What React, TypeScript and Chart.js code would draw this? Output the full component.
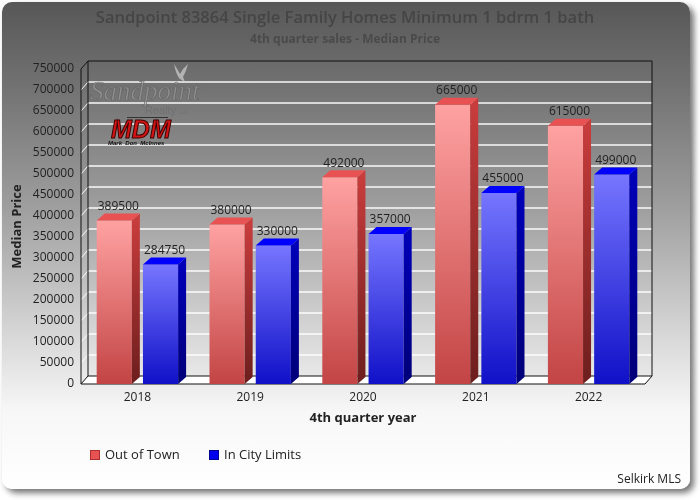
import React, { useEffect, useRef } from "react";
import { Chart, registerables } from "chart.js";

Chart.register(...registerables);

// data
const years = ["2018", "2019", "2020", "2021", "2022"];
const outOfTown = [389500, 380000, 492000, 665000, 615000];
const inCityLimits = [284750, 330000, 357000, 455000, 499000];
const seriesNames = ["Out of Town", "In City Limits"];
const yMax = 750000;
const yStep = 50000;

const FONT = "'Open Sans', 'DejaVu Sans', sans-serif";

// 3d depth of the plot walls and of the bars
const WX = 7;
const WY = 8;
const BX = 8;
const BY = 7;

const faces = [
    { light: "#ffa2a2", dark: "#c34444", sideTop: "#c83c3c", sideBot: "#6c1e1e", top: "#e85252", key: "#e85252", keyEdge: "#a83030" },
    { light: "#7676ff", dark: "#1010c8", sideTop: "#0000b8", sideBot: "#000078", top: "#0000ff", key: "#0000ee", keyEdge: "#000090" },
];

const frontFill = (i: number) => (ctx: any) => {
    const chart = ctx.chart;
    const area = chart.chartArea;
    if (!area || ctx.type !== "data") return faces[i].dark;
    const top = chart.scales.y.getPixelForValue(ctx.raw);
    const g = chart.ctx.createLinearGradient(0, top, 0, area.bottom);
    g.addColorStop(0, faces[i].light);
    g.addColorStop(1, faces[i].dark);
    return g;
};

const drawLogo = (ctx: CanvasRenderingContext2D) => {
    ctx.save();
    // little dove
    ctx.globalAlpha = 0.7;
    ctx.fillStyle = "#d0d0d0";
    ctx.beginPath();
    ctx.moveTo(174, 64);
    ctx.quadraticCurveTo(178, 70, 180, 74);
    ctx.quadraticCurveTo(183, 68, 188, 64);
    ctx.quadraticCurveTo(186, 72, 183, 77);
    ctx.lineTo(185, 82);
    ctx.lineTo(180, 79);
    ctx.quadraticCurveTo(176, 75, 174, 64);
    ctx.fill();

    // Sandpoint Realty watermark
    ctx.globalAlpha = 0.85;
    ctx.font = "italic 27px 'Liberation Serif', serif";
    ctx.textBaseline = "alphabetic";
    ctx.fillStyle = "rgba(175,175,175,0.55)";
    ctx.fillText("Sandpoint", 90, 100);
    ctx.strokeStyle = "#626262";
    ctx.lineWidth = 0.7;
    ctx.strokeText("Sandpoint", 90, 100);
    ctx.font = "11px 'Liberation Sans', sans-serif";
    ctx.fillStyle = "#6e6e6e";
    ctx.fillText("Realty", 145, 114);
    ctx.font = "5px 'Liberation Sans', sans-serif";
    ctx.fillText("LLC", 179, 114);

    // MDM mark
    ctx.globalAlpha = 1;
    ctx.strokeStyle = "#333";
    ctx.lineWidth = 1;
    ctx.beginPath();
    ctx.moveTo(127, 117.5);
    ctx.lineTo(168, 117.5);
    ctx.stroke();
    ctx.font = "italic bold 25px 'Liberation Sans', sans-serif";
    ctx.fillStyle = "#d41414";
    ctx.strokeStyle = "#3a0000";
    ctx.lineWidth = 1;
    ctx.fillText("MDM", 111, 138);
    ctx.strokeText("MDM", 111, 138);
    ctx.font = "italic bold 6px 'Liberation Sans', sans-serif";
    ctx.fillStyle = "#111";
    ctx.fillText("Mark  Don  McInnes", 108, 145);
    ctx.restore();
};

const threeD = {
    id: "threeD",
    beforeDatasetsDraw(chart: any) {
        const ctx: CanvasRenderingContext2D = chart.ctx;
        const { left, right, top, bottom } = chart.chartArea;
        const ys = chart.scales.y;
        ctx.save();

        // floor
        ctx.beginPath();
        ctx.moveTo(left, bottom);
        ctx.lineTo(right, bottom);
        ctx.lineTo(right + WX, bottom - WY);
        ctx.lineTo(left + WX, bottom - WY);
        ctx.closePath();
        ctx.fillStyle = "#ffffff";
        ctx.fill();
        ctx.strokeStyle = "#111";
        ctx.lineWidth = 1;
        ctx.stroke();

        // grid lines on the back wall + marks on the side wall
        ys.ticks.forEach((t: any) => {
            if (t.value === 0 || t.value === yMax) return;
            const py = ys.getPixelForValue(t.value);
            ctx.strokeStyle = "rgba(255,255,255,0.95)";
            ctx.lineWidth = 1.6;
            ctx.beginPath();
            ctx.moveTo(left + WX, py - WY);
            ctx.lineTo(right + WX, py - WY);
            ctx.stroke();
            ctx.lineWidth = 1;
            ctx.beginPath();
            ctx.moveTo(left, py);
            ctx.lineTo(left + WX, py - WY);
            ctx.stroke();
        });

        // wall outlines
        ctx.strokeStyle = "#111";
        ctx.lineWidth = 1;
        ctx.beginPath();
        ctx.moveTo(left + WX, bottom - WY);
        ctx.lineTo(left + WX, top - WY);
        ctx.lineTo(right + WX, top - WY);
        ctx.lineTo(right + WX, bottom - WY);
        ctx.moveTo(left, bottom);
        ctx.lineTo(left, top);
        ctx.lineTo(left + WX, top - WY);
        ctx.stroke();

        drawLogo(ctx);
        ctx.restore();
    },
    afterDatasetsDraw(chart: any) {
        const ctx: CanvasRenderingContext2D = chart.ctx;
        ctx.save();
        chart.data.datasets.forEach((ds: any, di: number) => {
            const f = faces[di];
            chart.getDatasetMeta(di).data.forEach((bar: any, i: number) => {
                const { x, y, base, width } = bar.getProps(["x", "y", "base", "width"], true);
                const l = x - width / 2;
                const r = x + width / 2;
                const g = ctx.createLinearGradient(0, y, 0, base);
                g.addColorStop(0, f.sideTop);
                g.addColorStop(1, f.sideBot);
                ctx.fillStyle = g;
                ctx.beginPath();
                ctx.moveTo(r, y);
                ctx.lineTo(r + BX, y - BY);
                ctx.lineTo(r + BX, base - BY);
                ctx.lineTo(r, base);
                ctx.closePath();
                ctx.fill();
                ctx.fillStyle = f.top;
                ctx.beginPath();
                ctx.moveTo(l, y);
                ctx.lineTo(r, y);
                ctx.lineTo(r + BX, y - BY);
                ctx.lineTo(l + BX, y - BY);
                ctx.closePath();
                ctx.fill();
                ctx.fillStyle = "#222";
                ctx.font = `12px ${FONT}`;
                ctx.textAlign = "center";
                ctx.textBaseline = "bottom";
                ctx.fillText(String(ds.data[i]), x + BX / 2, y - BY - 1);
            });
        });
        ctx.restore();
    },
    afterDraw(chart: any) {
        const ctx: CanvasRenderingContext2D = chart.ctx;
        ctx.save();
        ctx.textAlign = "center";
        ctx.textBaseline = "middle";
        ctx.fillStyle = "#454545";
        ctx.font = `600 16.5px ${FONT}`;
        ctx.fillText("Sandpoint 83864 Single Family Homes Minimum 1 bdrm 1 bath", 345, 18);
        ctx.fillStyle = "#4a4a4a";
        ctx.font = `bold 12px ${FONT}`;
        ctx.fillText("4th quarter sales - Median Price", 345, 40);

        // legend
        ctx.textAlign = "left";
        ctx.font = `13px ${FONT}`;
        const keyX = [90, 209];
        chart.data.datasets.forEach((ds: any, di: number) => {
            ctx.fillStyle = faces[di].key;
            ctx.fillRect(keyX[di], 450, 10, 10);
            ctx.strokeStyle = faces[di].keyEdge;
            ctx.lineWidth = 1;
            ctx.strokeRect(keyX[di] + 0.5, 450.5, 9, 9);
            ctx.fillStyle = "#222";
            ctx.fillText(ds.label, keyX[di] + 15, 455);
        });

        ctx.textAlign = "right";
        ctx.font = `12px ${FONT}`;
        ctx.fillStyle = "#222";
        ctx.fillText("Selkirk MLS", 681, 480);
        ctx.restore();
    },
};

export default function App() {
    const canvasRef = useRef<HTMLCanvasElement | null>(null);
    const chartRef = useRef<Chart | null>(null);

    useEffect(() => {
        if (!canvasRef.current) return;
        const ctx = canvasRef.current.getContext("2d");
        if (!ctx) return;

        if (chartRef.current) {
            chartRef.current.destroy();
        }

        chartRef.current = new Chart(ctx, {
            type: "bar",
            data: {
                labels: years,
                datasets: [
                    {
                        label: seriesNames[0],
                        data: outOfTown,
                        backgroundColor: frontFill(0),
                        borderWidth: 0,
                        categoryPercentage: 0.82,
                        barPercentage: 0.76,
                    },
                    {
                        label: seriesNames[1],
                        data: inCityLimits,
                        backgroundColor: frontFill(1),
                        borderWidth: 0,
                        categoryPercentage: 0.82,
                        barPercentage: 0.76,
                    },
                ],
            },
            options: {
                animation: false,
                responsive: false,
                maintainAspectRatio: false,
                layout: {
                    padding: { top: 69, right: 55, bottom: 74, left: 0 },
                },
                plugins: {
                    legend: { display: false },
                    title: { display: false },
                    tooltip: { enabled: false },
                },
                scales: {
                    x: {
                        afterFit: (scale: any) => {
                            scale.height = 42;
                        },
                        grid: { display: false, drawTicks: false },
                        border: { display: false },
                        ticks: {
                            color: "#222",
                            font: { size: 12, family: FONT },
                            padding: 6,
                        },
                        title: {
                            display: true,
                            text: "4th quarter year",
                            color: "#222",
                            font: { size: 13, weight: "bold", family: FONT },
                            padding: { top: 0, bottom: 0 },
                        },
                    },
                    y: {
                        min: 0,
                        max: yMax,
                        afterFit: (scale: any) => {
                            scale.width = 81;
                        },
                        grid: { display: false, drawTicks: false },
                        border: { display: false },
                        ticks: {
                            stepSize: yStep,
                            color: "#222",
                            font: { size: 12, family: FONT },
                            padding: 7,
                            callback: (v: any) => String(v),
                        },
                        title: {
                            display: true,
                            text: "Median Price",
                            color: "#222",
                            font: { size: 13, weight: "bold", family: FONT },
                            padding: { top: 9, bottom: 0 },
                        },
                    },
                },
            },
            plugins: [threeD],
        });

        return () => {
            chartRef.current?.destroy();
            chartRef.current = null;
        };
    }, []);

    return (
        <div style={{ position: "relative", width: 700, height: 500, background: "#fff" }}>
            <style>{`body { margin: 0; }`}</style>
            <div
                style={{
                    position: "absolute",
                    left: 2,
                    top: 2,
                    width: 688,
                    height: 487,
                    borderRadius: 10,
                    background:
                        "linear-gradient(to bottom, #575757 0%, #737373 18%, #9e9e9e 42%, #d2d2d2 66%, #f7f7f7 84%, #ffffff 100%)",
                    boxShadow: "4px 4px 6px rgba(0,0,0,0.55)",
                }}
            />
            <canvas
                ref={canvasRef}
                width={700}
                height={500}
                style={{ position: "absolute", left: 0, top: 0, width: 700, height: 500 }}
            ></canvas>
        </div>
    );
}
